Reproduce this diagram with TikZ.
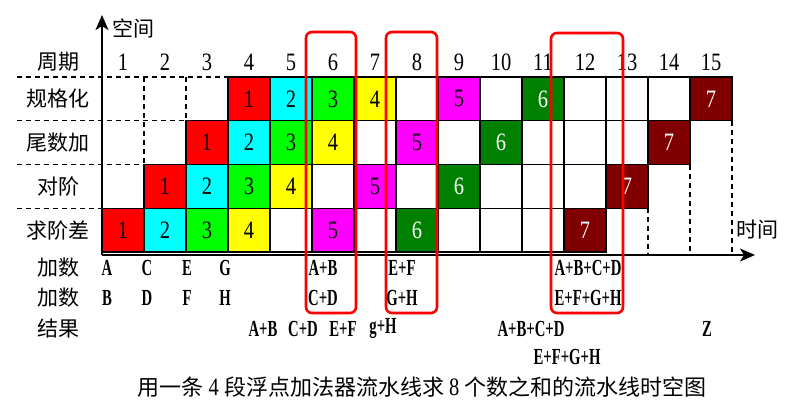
\documentclass[tikz,border=0pt]{standalone}
\usepackage{fontspec}
\setmainfont{Liberation Serif}[FakeStretch=0.82]
\newfontfamily\latb{Liberation Serif}[FakeStretch=0.64]
\newfontfamily\cjk{Noto Sans CJK SC}
\usetikzlibrary{arrows.meta}
\definecolor{cred}{RGB}{255,0,0}
\definecolor{ccyan}{RGB}{0,255,255}
\definecolor{cgreen}{RGB}{0,255,0}
\definecolor{cyel}{RGB}{255,255,0}
\definecolor{cmag}{RGB}{255,0,255}
\definecolor{cdkg}{RGB}{0,128,0}
\definecolor{cdkr}{RGB}{128,0,0}
\begin{document}
\begin{tikzpicture}[x=1pt,y=-1pt,
  cell/.style={draw=black,line width=1.2pt,minimum width=42pt,minimum height=43.75pt,inner sep=0pt,
    font=\fontsize{25}{25}\selectfont},
  gridsolid/.style={line width=1.2pt},
  griddash/.style={line width=1.1pt,dash pattern=on 5pt off 4pt},
  axisline/.style={line width=1.8pt,-{Stealth[length=15pt,width=13pt,inset=4pt]}},
  cjklab/.style={font=\cjk\fontsize{21}{21}\selectfont,inner sep=0pt},
  numlab/.style={font=\fontsize{25}{25}\selectfont,inner sep=0pt},
  letlab/.style={font=\latb\bfseries\fontsize{23}{23}\selectfont,inner sep=0pt},
  redbox/.style={draw=cred,line width=2.6pt,rounded corners=6pt}]
\useasboundingbox (0,0) rectangle (809,415);
\fill[white] (0,0) rectangle (809,415);
% dashed grid
\draw[griddash] (17,77) -- (228,77);
\draw[griddash] (17,120.75) -- (186,120.75);
\draw[griddash] (17,164.5) -- (144,164.5);
\draw[griddash] (17,208.25) -- (102,208.25);
\draw[griddash] (144,77) -- (144,164.5);
\draw[griddash] (186,77) -- (186,120.75);
\draw[griddash] (732,120.75) -- (732,255);
\draw[griddash] (690,164.5) -- (690,255);
\draw[griddash] (648,208.25) -- (648,255);
% solid grid
\draw[gridsolid] (228,77) -- (732,77);
\draw[gridsolid] (186,120.75) -- (732,120.75);
\draw[gridsolid] (144,164.5) -- (690,164.5);
\draw[gridsolid] (102,208.25) -- (648,208.25);
\draw[gridsolid] (102,252) -- (606,252);
\foreach \r in {1,...,4}{
  \pgfmathtruncatemacro\ja{4-\r}
  \pgfmathtruncatemacro\jb{16-\r}
  \foreach \j in {\ja,...,\jb}{
    \draw[gridsolid] ({102+42*\j},{77+43.75*(\r-1)}) -- ({102+42*\j},{77+43.75*\r});
  }
}
% cells
\foreach \r in {1,...,4}{
  \foreach \k/\off/\col/\tc in {1/5/cred/black,2/6/ccyan/black,3/7/cgreen/black,4/8/cyel/black,5/10/cmag/black,6/12/cdkg/white,7/16/cdkr/white}{
    \pgfmathtruncatemacro\cc{\off-\r}
    \node[cell,fill=\col,text=\tc] (cell-\r-\k) at ({81+42*\cc},{77+43.75*(\r-0.5)}) {\k};
  }
}
% axes
\coordinate (O) at (102,255);
\coordinate (ytip) at (102,15);
\coordinate (xtip) at (755,255);
\draw[axisline] (O) -- (ytip);
\draw[axisline] (O) -- (xtip);
\node[cjklab] (kongjian) at (133,28) {空间};
\node[cjklab] (shijian) at (757,230) {时间};
% header
\node[cjklab] (zhouqi) at (58,62) {周期};
\foreach \c in {1,...,15}{
  \node[numlab] (h\c) at ({81+42*\c},62) {\c};
}
% row labels
\node[cjklab] (r1) at (58,98.9) {规格化};
\node[cjklab] (r2) at (58,142.6) {尾数加};
\node[cjklab] (r3) at (58,186.4) {对阶};
\node[cjklab] (r4) at (58,230.1) {求阶差};
\node[cjklab] (jia1) at (58,268) {加数};
\node[cjklab] (jia2) at (58,298) {加数};
\node[cjklab] (jieguo) at (58,329) {结果};
% operand letters
\node[letlab] (a1) at (107,268) {A};
\node[letlab] (a2) at (147,268) {C};
\node[letlab] (a3) at (187,268) {E};
\node[letlab] (a4) at (225,268) {G};
\node[letlab] (b1) at (107,298) {B};
\node[letlab] (b2) at (147,298) {D};
\node[letlab] (b3) at (187,298) {F};
\node[letlab] (b4) at (225,298) {H};
\node[letlab] (a5) at (323,268) {A+B};
\node[letlab] (b5) at (323,298) {C+D};
\node[letlab] (a6) at (402,268) {E+F};
\node[letlab] (b6) at (402,298) {G+H};
\node[letlab] (a7) at (588,268) {A+B+C+D};
\node[letlab] (b7) at (588,298) {E+F+G+H};
% results
\node[letlab] (s1) at (263,329) {A+B};
\node[letlab] (s2) at (303,329) {C+D};
\node[letlab] (s3) at (343,329) {E+F};
\node[letlab] (s4) at (383,329) {g+H};
\node[letlab] (s5) at (531,329) {A+B+C+D};
\node[letlab] (s6) at (567,357) {E+F+G+H};
\node[letlab] (s7) at (707,329) {Z};
% red boxes
\draw[redbox] (306,32) rectangle (356,313);
\draw[redbox] (386,32) rectangle (437,313);
\draw[redbox] (551,33) rectangle (623,313);
% caption
\node[inner sep=0pt,font=\fontsize{25}{25}\selectfont] (caption) at (422,387)
  {{\cjk\fontsize{22}{22}\selectfont 用一条}\ 4\ {\cjk\fontsize{22}{22}\selectfont 段浮点加法器流水线求}\ 8\ {\cjk\fontsize{22}{22}\selectfont 个数之和的流水线时空图}};
\end{tikzpicture}
\end{document}
